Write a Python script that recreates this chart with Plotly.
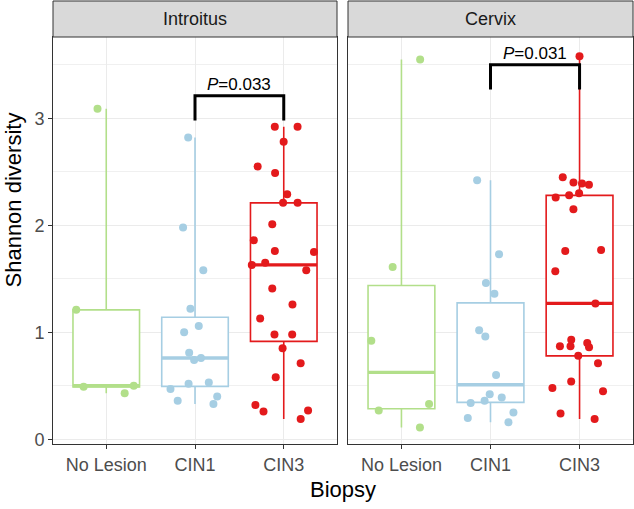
import numpy as np
import plotly.graph_objects as go

# ---------------- data ----------------
categories = ["No Lesion", "CIN1", "CIN3"]
sites = ["Introitus", "Cervix"]

introitus_no_lesion = [3.09, 1.21, 0.50, 0.49, 0.43]
introitus_cin1 = [2.82, 1.98, 1.58, 1.22, 1.06, 1.00, 0.81, 0.76, 0.74, 0.53,
                  0.52, 0.47, 0.40, 0.36, 0.33]
introitus_cin3 = [2.92, 2.92, 2.78, 2.55, 2.49, 2.29, 2.21, 2.21, 2.01, 1.86,
                  1.76, 1.75, 1.65, 1.63, 1.58, 1.41, 1.26, 1.13, 0.98, 0.98,
                  0.85, 0.71, 0.58, 0.32, 0.27, 0.26, 0.19]

cervix_no_lesion = [3.55, 1.61, 0.92, 0.33, 0.27, 0.11]
cervix_cin1 = [2.42, 1.73, 1.46, 1.36, 1.02, 0.96, 0.60, 0.42, 0.39, 0.36,
               0.34, 0.25, 0.20, 0.16]
cervix_cin3 = [3.58, 2.45, 2.40, 2.39, 2.38, 2.30, 2.28, 2.26, 2.15, 1.77,
               1.76, 1.57, 1.27, 0.93, 0.90, 0.87, 0.87, 0.86, 0.78, 0.71,
               0.54, 0.48, 0.45, 0.24, 0.19]

p_labels = ["0.033", "0.031"]
bracket_top = [3.21, 3.50]
bracket_drop = 0.23
compare_pair = ("CIN1", "CIN3")

colors = ["#B2DF8A", "#A6CEE3", "#E31A1C"]

panel_data = [
    [introitus_no_lesion, introitus_cin1, introitus_cin3],
    [cervix_no_lesion, cervix_cin1, cervix_cin3],
]

FONT = "Liberation Sans, Arial, Helvetica, sans-serif"
BOX_W = 0.75

fig = go.Figure()

# layout geometry
W, H = 634, 509
ML, MR, MT, MB = 53, 1, 1, 65
plot_w = W - ML - MR
plot_h = H - MT - MB
strip_h = 36
ydom_top = (plot_h - strip_h) / plot_h
x_domains = [[0, (337 - ML) / plot_w], [(348 - ML) / plot_w, 1]]

for p, groups in enumerate(panel_data):
    xa = "x" if p == 0 else "x2"
    ya = "y" if p == 0 else "y2"
    # boxes
    for i, vals in enumerate(groups):
        v = np.array(vals)
        q1, med, q3 = np.percentile(v, [25, 50, 75])
        fig.add_trace(go.Box(
            x=[i], q1=[q1], median=[med], q3=[q3],
            lowerfence=[v.min()], upperfence=[v.max()],
            width=BOX_W, whiskerwidth=0, boxpoints=False,
            line=dict(color=colors[i], width=1.6), fillcolor="white",
            xaxis=xa, yaxis=ya, showlegend=False, hoverinfo="skip",
        ))
    # thick medians
    for i, vals in enumerate(groups):
        med = float(np.median(vals))
        fig.add_trace(go.Scatter(
            x=[i - BOX_W / 2, i + BOX_W / 2], y=[med, med], mode="lines",
            line=dict(color=colors[i], width=3.4),
            xaxis=xa, yaxis=ya, showlegend=False, hoverinfo="skip",
        ))
    # jittered points
    for i, vals in enumerate(groups):
        fig.add_trace(go.Box(
            x=[i] * len(vals), y=vals, boxpoints="all", jitter=1, pointpos=0,
            width=0.8, line=dict(width=0, color=colors[i]),
            fillcolor="rgba(0,0,0,0)",
            marker=dict(color=colors[i], size=8, line=dict(width=0)),
            xaxis=xa, yaxis=ya, showlegend=False, hoverinfo="skip",
        ))
    # significance bracket
    a = categories.index(compare_pair[0])
    b = categories.index(compare_pair[1])
    top = bracket_top[p]
    fig.add_trace(go.Scatter(
        x=[a, a, b, b], y=[top - bracket_drop, top, top, top - bracket_drop],
        mode="lines", line=dict(color="black", width=3),
        xaxis=xa, yaxis=ya, showlegend=False, hoverinfo="skip",
    ))
    fig.add_annotation(
        x=(a + b) / 2, y=top, xref=xa, yref=ya, yanchor="bottom",
        text="<i>P</i>=" + p_labels[p], showarrow=False,
        font=dict(family=FONT, size=17, color="black"),
    )
    # strip
    fig.add_shape(type="rect", xref="paper", yref="paper",
                  x0=x_domains[p][0], x1=x_domains[p][1], y0=ydom_top, y1=1,
                  fillcolor="#D9D9D9", line=dict(color="#333333", width=1))
    fig.add_annotation(
        x=(x_domains[p][0] + x_domains[p][1]) / 2, y=(ydom_top + 1) / 2,
        xref="paper", yref="paper", text=sites[p], showarrow=False,
        font=dict(family=FONT, size=18, color="#1A1A1A"),
        xanchor="center", yanchor="middle",
    )

axis_common = dict(
    showline=True, mirror=True, linecolor="#333333", linewidth=1,
    ticks="outside", ticklen=4, tickcolor="#333333", tickwidth=1,
    gridcolor="#EBEBEB", gridwidth=1, zeroline=False,
    tickfont=dict(family=FONT, size=18, color="#4D4D4D"),
)

for k in (1, 2):
    fig.update_layout(**{
        ("xaxis" if k == 1 else "xaxis2"): dict(
            axis_common, domain=x_domains[k - 1], range=[-0.6, 2.6],
            tickmode="array", tickvals=list(range(len(categories))),
            ticktext=categories, anchor="y" if k == 1 else "y2",
        ),
        ("yaxis" if k == 1 else "yaxis2"): dict(
            axis_common, domain=[0, ydom_top], range=[-0.044, 3.76],
            tick0=0, dtick=1, showticklabels=(k == 1),
            ticks="outside" if k == 1 else "",
            minor=dict(dtick=0.5, tick0=0, showgrid=True, gridcolor="#F0F0F0",
                       gridwidth=1, ticks=""),
            anchor="x" if k == 1 else "x2",
            matches=None if k == 1 else "y",
        ),
    })

fig.add_annotation(
    x=0.5, y=(plot_h + MT - 489) / plot_h, xref="paper", yref="paper",
    text="Biopsy", showarrow=False, xanchor="center", yanchor="middle",
    font=dict(family=FONT, size=22, color="black"),
)
fig.add_annotation(
    x=(12.5 - ML) / plot_w, y=(plot_h + MT - 200) / plot_h,
    xref="paper", yref="paper", text="Shannon diversity", showarrow=False,
    textangle=-90, xanchor="center", yanchor="middle",
    font=dict(family=FONT, size=22, color="black"),
)

fig.update_layout(
    width=W, height=H, margin=dict(l=ML, r=MR, t=MT, b=MB),
    plot_bgcolor="white", paper_bgcolor="white", boxmode="overlay",
    showlegend=False, font=dict(family=FONT),
)

fig.write_html(
    "out.html",
    config={"displayModeBar": False},
    post_script="document.body.style.margin='0';document.body.style.padding='0';"
                "document.body.style.overflow='hidden';",
)
